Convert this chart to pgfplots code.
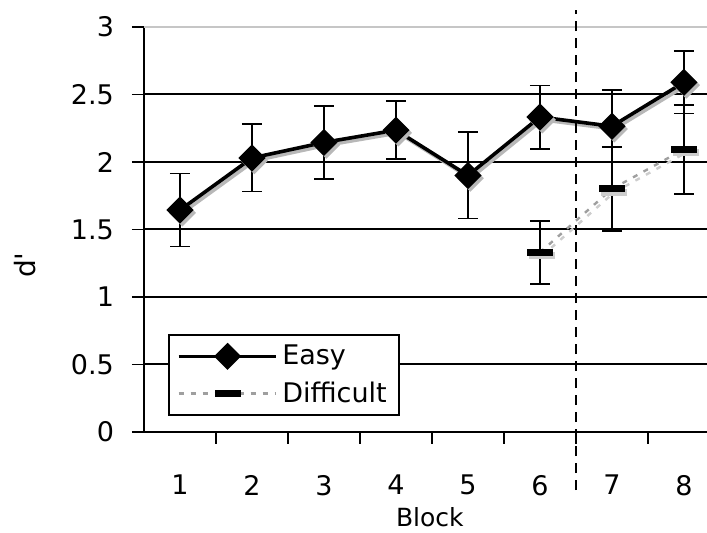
\documentclass[border=0pt]{standalone}
\usepackage{fontspec}
\setmainfont{DejaVu Sans}
\usepackage{pgfplots}
\pgfplotsset{compat=1.18}
\definecolor{shadowgray}{gray}{0.72}

\begin{document}
\begin{tikzpicture}
\begin{axis}[
  scale only axis, width=281.5pt, height=202.5pt,
  xmin=0.5, xmax=8.32, ymin=0, ymax=3,
  axis lines=left, axis line style={-, line width=0.8pt, black},
  clip=false,
  /pgf/number format/assume math mode=true,
  tick align=outside, major tick length=6pt,
  tick style={black, line width=0.8pt},
  xtick={1.5,2.5,...,7.5}, xticklabels={},
  extra x ticks={1,2,...,8},
  extra x tick labels={1,2,3,4,5,6,7,8},
  extra x tick style={major tick length=0pt,
    tick label style={yshift=-18pt}},
  ytick={0,0.5,...,2.5},
  yticklabels={0,0.5,1,1.5,2,2.5},
  extra y ticks={3}, extra y tick labels={3},
  extra y tick style={grid style={gray!45, line width=0.6pt}},
  ymajorgrids, grid style={black, line width=1pt},
  tick label style={font=\fontsize{13.5}{15}\selectfont},
  yticklabel style={xshift=-5.5pt},
  xlabel={Block},
  xlabel style={font=\fontsize{12.5}{14}\selectfont, at={(axis cs:4.47,0)}, anchor=center, yshift=-42.5pt},
  ylabel={d\textquotesingle},
  ylabel style={font=\fontsize{14}{16}\selectfont, at={(axis description cs:-0.2114,0.412)}, anchor=center},
  legend style={at={(0.0426,0.0395)}, anchor=south west, draw=black, line width=0.8pt, fill=white,
    font=\fontsize{13.5}{15}\selectfont, inner xsep=4pt, inner ysep=3pt, row sep=3pt,
    nodes={inner sep=2pt}},
  legend cell align=left,
  legend image code/.code={\draw[mark repeat=2,mark phase=2,#1] plot coordinates {(0cm,0cm) (0.86cm,0cm) (1.72cm,0cm)};},
]
% shadows
\addplot[forget plot, shadowgray, line width=1.8pt, mark=square*, mark size=3.9pt, mark options={rotate=45}, xshift=1.2pt, yshift=-1.4pt]
  coordinates {(1,1.644)(2,2.03)(3,2.145)(4,2.236)(5,1.90)(6,2.333)(7,2.265)(8,2.59)};
\addplot[forget plot, shadowgray!70, line width=1.2pt, dash pattern=on 2.5pt off 3.5pt, mark=-, mark size=6.5pt, mark options={solid, line width=3.5pt}, xshift=1.2pt, yshift=-1.6pt]
  coordinates {(6,1.33)(7,1.80)(8,2.094)};

\addplot[black, line width=1.8pt, mark=square*, mark size=3.9pt, mark options={rotate=45},
  error bars/.cd, y dir=both, y explicit,
  error bar style={black, line width=0.8pt},
  error mark options={rotate=90, black, line width=0.8pt, mark size=5pt}]
  coordinates {
    (1,1.644) +- (0,0.27)
    (2,2.03)  +- (0,0.25)
    (3,2.145) +- (0,0.27)
    (4,2.236) +- (0,0.215)
    (5,1.90)  +- (0,0.32)
    (6,2.333) +- (0,0.235)
    (7,2.265) +- (0,0.27)
    (8,2.59)  +- (0,0.23)
  };
\addlegendentry{Easy}

\addplot[gray!75, line width=1.2pt, dash pattern=on 2.5pt off 3.5pt, mark=-, mark size=6.5pt,
  mark options={solid, black, line width=3.5pt},
  error bars/.cd, y dir=both, y explicit,
  error bar style={solid, black, line width=0.8pt},
  error mark options={rotate=90, solid, black, line width=0.8pt, mark size=5pt}]
  coordinates {
    (6,1.33)  +- (0,0.235)
    (7,1.80)  +- (0,0.31)
    (8,2.094) +- (0,0.33)
  };
\addlegendentry{Difficult}

\draw[black, line width=1.2pt, dash pattern=on 5pt off 3.5pt] (axis cs:6.5,-0.43) -- (axis cs:6.5,3.126);
\end{axis}
\pgfresetboundingbox
\path[use as bounding box] (-72pt,-50.5pt) rectangle (281.5pt,216pt);
\end{tikzpicture}
\end{document}
